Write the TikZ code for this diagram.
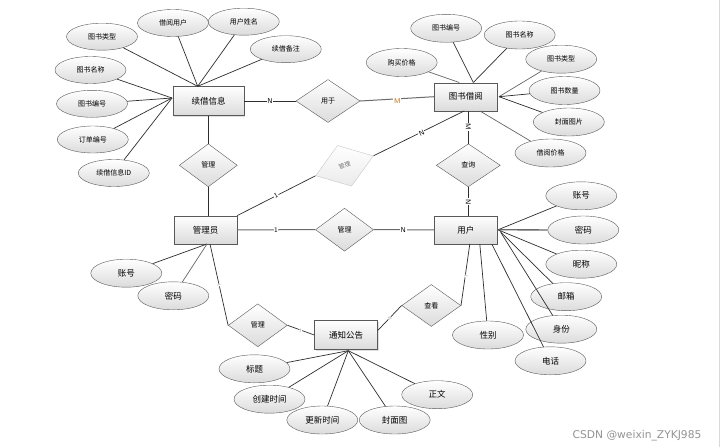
\documentclass[tikz,border=0pt]{standalone}
\usepackage{fontspec}
\newfontfamily\cjk{Noto Sans CJK SC}
\newfontfamily\wmfont{DejaVu Sans}
\usetikzlibrary{shapes.geometric,calc,shadows}
\definecolor{morange}{RGB}{190,110,20}
\tikzset{
 ent/.style={draw=black!65, rectangle, top color=white, bottom color=black!14, minimum width=63pt, minimum height=28pt, inner sep=0pt, font=\cjk\fontsize{8.5}{10}\selectfont, drop shadow={opacity=0.25,shadow xshift=1pt,shadow yshift=-1pt}},
 attr/.style={draw=black!65, ellipse, top color=white, bottom color=black!14, minimum width=71pt, minimum height=27pt, inner sep=0pt, font=\cjk\fontsize{8.5}{10}\selectfont},
 sattr/.style={attr, font=\cjk\fontsize{7}{8}\selectfont},
 rel/.style={draw=black!65, diamond, top color=white, bottom color=black!14, minimum width=60pt, minimum height=43pt, inner sep=0pt, font=\cjk\fontsize{7}{8}\selectfont},
 con/.style={draw=black!82, line width=0.7pt},
 gcon/.style={draw=black!58, line width=1pt},
 lab/.style={font=\sffamily\fontsize{7}{8}\selectfont, inner sep=0.6pt, fill=white},
 tlab/.style={font=\sffamily\fontsize{4}{4}\selectfont, text=black!50, inner sep=0.3pt, fill=white},
}
\begin{document}
\begin{tikzpicture}[x=1pt,y=-1pt]
\useasboundingbox (0,0) rectangle (722,447);
\fill[white] (0,0) rectangle (722,447);
\draw[black!15, line width=0.8pt] (719.5,0) -- (719.5,447);

% entities
\node[ent, minimum width=71pt, minimum height=29pt] (xjxx) at (208.7,101) {续借信息};
\node[ent] (tsjy) at (465.8,96.7) {图书借阅};
\node[ent] (gly) at (205.5,229.8) {管理员};
\node[ent] (yh) at (465.8,229.8) {用户};
\node[ent, minimum height=29pt] (tzgg) at (346,335) {通知公告};

% relations
\node[rel, minimum width=64pt] (yy) at (328,101) {用于};
\node[rel, minimum width=58pt] (gl1) at (208.3,165.3) {管理};
\node[rel, minimum width=64pt] (cx) at (468.3,165.3) {查询};
\node[rel, minimum width=58pt] (gl2) at (344.5,229.7) {管理};
\node[rel, minimum width=59pt] (gl3) at (257.8,325.3) {管理};
\node[rel, minimum width=59pt, minimum height=42pt] (ck) at (431.3,305.5) {查看};
\node[rel, minimum width=61pt, minimum height=43pt, rotate=19, draw=black!22, bottom color=black!8, text=black!55, font=\cjk\fontsize{6}{7}\selectfont] (gl4) at (344.5,165.8) {管理};

% attributes of 续借信息
\node[sattr] (a1) at (102,36.7) {图书类型};
\node[sattr] (a2) at (173,23) {借阅用户};
\node[sattr] (a3) at (243.8,21.7) {用户姓名};
\node[sattr] (a4) at (285.8,49.2) {续借备注};
\node[sattr] (a5) at (90.5,70) {图书名称};
\node[sattr] (a6) at (92,103.8) {图书编号};
\node[sattr] (a7) at (92.8,139.5) {订单编号};
\node[sattr] (a8) at (113.8,173) {续借信息ID};

% attributes of 图书借阅
\node[sattr, minimum height=28pt] (b1) at (446.2,28.3) {图书编号};
\node[sattr, minimum height=28pt] (b2) at (519.7,35) {图书名称};
\node[sattr, minimum height=28pt] (b3) at (401.7,62.5) {购买价格};
\node[sattr, minimum height=28pt] (b4) at (561.2,59.2) {图书类型};
\node[sattr, minimum height=28pt] (b5) at (564.5,90.5) {图书数量};
\node[sattr, minimum height=28pt] (b6) at (568.8,122) {封面图片};
\node[sattr, minimum height=28pt] (b7) at (550.5,153) {借阅价格};

% attributes of 管理员
\node[attr, minimum height=28pt] (c1) at (126.3,273.2) {账号};
\node[attr, minimum height=28pt] (c2) at (173.3,295.8) {密码};

% attributes of 用户
\node[attr, minimum height=28pt] (d1) at (581.3,195.8) {账号};
\node[attr, minimum height=28pt] (d2) at (583.3,230) {密码};
\node[attr, minimum height=28pt] (d3) at (581.3,264.2) {昵称};
\node[attr, minimum height=28pt] (d4) at (566.2,296.7) {邮箱};
\node[attr, minimum height=28pt] (d5) at (561.3,329.2) {身份};
\node[attr, minimum height=28pt] (d6) at (488,335) {性别};
\node[attr, minimum height=28pt] (d7) at (550.5,360.8) {电话};

% attributes of 通知公告
\node[attr, minimum height=28pt] (e1) at (254.5,368.8) {标题};
\node[attr, minimum height=28pt] (e2) at (269.5,399.2) {创建时间};
\node[attr, minimum height=28pt] (e3) at (322.3,420) {更新时间};
\node[attr, minimum height=28pt] (e4) at (394.7,420) {封面图};
\node[attr, minimum height=28pt] (e5) at (437.2,394.7) {正文};

% connection points
\coordinate (xjT) at ($(xjxx.north)+(-11,0)$);
\coordinate (xjL) at ($(xjxx.west)+(-1,-3)$);
\coordinate (tjT1) at ($(tsjy.north)+(7.5,0)$);
\coordinate (tjT2) at ($(tsjy.north)+(-6.5,0)$);
\coordinate (tjR) at ($(tsjy.east)+(1.5,0)$);
\coordinate (tjB) at ($(tsjy.south)+(14,0)$);
\coordinate (tjB2) at ($(tsjy.south)+(-1.5,0)$);
\coordinate (ylB) at ($(gly.south)+(1.5,0)$);
\coordinate (ylB2) at ($(gly.south)+(4.5,0)$);
\coordinate (yhR) at ($(yh.east)+(0.5,0)$);
\coordinate (yhB1) at ($(yh.south)+(14,0)$);
\coordinate (yhB2) at ($(yh.south)+(26,0)$);
\coordinate (yhB3) at ($(yh.south)+(4,0)$);
\coordinate (tzB) at ($(tzgg.south)+(2.3,1)$);
\coordinate (tzR) at ($(tzgg.east)+(0,-4.5)$);

% 续借信息 attributes
\foreach \a in {a1,a2,a3,a4} \draw[con] (xjT) -- (\a);
\foreach \a in {a5,a6,a7,a8} \draw[con] (xjL) -- (\a);
% 图书借阅 attributes
\draw[con] (tjT1) -- (b1);
\draw[con] (tjT1) -- (b2);
\draw[con, draw=black!60] (tjT2) -- (b3);
\draw[con, draw=black!60] (tjR) -- (b4);
\draw[con] (tjR) -- (b5);
\draw[con] (tjR) -- (b6);
\draw[con, draw=black!60] (tjB) -- (b7);
% 管理员 attributes
\draw[con] (ylB) -- (c1);
\draw[con, draw=black!60] (ylB) -- (c2);
% 用户 attributes
\draw[con] (yhR) -- (d1);
\draw[gcon, line width=1.3pt] (yh.east) -- (d2);
\draw[con] (yhR) -- (d3);
\draw[con] ($(yhR)+(2,1.5)$) -- (d4);
\draw[con] ($(yhR)+(3,3)$) -- (d5);
\draw[con] (yhB1) -- (d6);
\draw[con] (yhB2) -- (d7);
% 通知公告 attributes
\foreach \a in {e1,e2,e3,e4,e5} \draw[con] (tzB) -- (\a);

% relationships
\draw[con] (xjxx.east) -- (yy.west);
\draw[gcon] (yy.east) -- (tsjy.west);
\draw[con] (gl1.north) -- (gl1.north |- xjxx.south);
\draw[con] (gl1.south) -- (gl1.south |- gly.north);
\draw[con] (cx.north) -- (cx.north |- tsjy.south);
\draw[con] (cx.south) -- (cx.south |- yh.north);
\draw[gcon] (gly.east) -- (gl2.west);
\draw[gcon] (gl2.east) -- (yh.west);
\draw[con] (gly.north east) -- (gl4.west);
\draw[con] (gl4.east) -- (tjB2);
\draw[con] (ylB2) -- (gl3.west);
\draw[con] (gl3.east) -- (tzgg.west);
\draw[con] (tzR) -- (ck.west);
\draw[con] (ck.east) -- (yhB3);

% cardinality labels
\node[lab] (n1) at (270,101) {N};
\node[lab, text=morange] (n2) at (397.3,101) {M};
\node[lab, rotate=-90] (n3) at (468.3,126.7) {M};
\node[lab, rotate=-90] (n4) at (468.3,201.7) {N};
\node[lab] (n5) at (276,229.8) {1};
\node[lab] (n6) at (403.3,229.8) {N};
\node[lab, rotate=27] (n7) at (276,195.3) {1};
\node[lab, rotate=26] (n8) at (421.7,133.3) {N};
\node[tlab, rotate=-77] (n9) at (219.3,285) {1};
\node[tlab, rotate=-20] (n10) at (300.7,330.2) {1};
\node[tlab, rotate=46] (n11) at (390,318.3) {N};
\node[tlab, rotate=81] (n12) at (466,276) {1};

% watermark
\node[font=\wmfont\fontsize{10.7}{12}\selectfont, text=black!42, inner sep=0pt] (wm) at (637,436) {CSDN @weixin\_ZYKJ985};
\end{tikzpicture}
\end{document}
